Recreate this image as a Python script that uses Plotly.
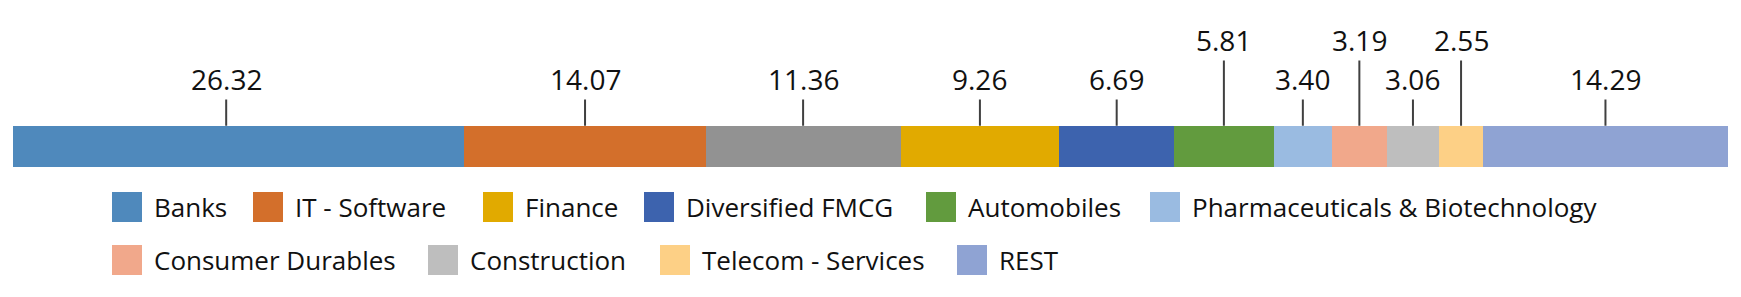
import plotly.graph_objects as go

# ---- data ----
sectors = ["Banks", "IT - Software", "Petroleum Products", "Finance", "Diversified FMCG",
           "Automobiles", "Pharmaceuticals & Biotechnology", "Consumer Durables",
           "Construction", "Telecom - Services", "REST"]
weights = [26.32, 14.07, 11.36, 9.26, 6.69, 5.81, 3.40, 3.19, 3.06, 2.55, 14.29]
colors = ["#4F89BC", "#D36F2B", "#929292", "#E1AA00", "#3D63AE", "#629B3E",
          "#9ABBE1", "#F1A88B", "#BEBEBE", "#FDD086", "#8FA3D3"]
in_legend = [True, True, False, True, True, True, True, True, True, True, True]
label_raised = [False, False, False, False, False, True, False, True, False, True, False]

# ---- layout constants (pixels) ----
W, H = 1741, 297
L_PX, R_PX = 13, 1728
BAR_TOP, BAR_BOT = 125.7, 166.7
px_per_unit = (R_PX - L_PX) / 100.0
x_range = [-L_PX / px_per_unit, 100 + (W - R_PX) / px_per_unit]
label_xshift = {"Banks": -12.5}  # leader-line offset (pixels)

# legend positions (swatch left px, swatch top px) in legend order
legend_pos = [(112, 192), (253, 192), (483, 192), (644, 192), (926, 192), (1150, 192),
              (112, 245), (428, 245), (660, 245), (957, 245)]

fig = go.Figure()
bar_y = (BAR_TOP + BAR_BOT) / 2
for name, w, c in zip(sectors, weights, colors):
    fig.add_trace(go.Bar(
        orientation="h", x=[w], y=[bar_y], width=BAR_BOT - BAR_TOP,
        marker=dict(color=c, line=dict(width=0)), name=name,
        showlegend=False, hoverinfo="name+x"))

annotations = []
shapes = []
cum = 0.0
for name, w, raised in zip(sectors, weights, label_raised):
    mid = cum + w / 2
    cum += w
    annotations.append(dict(
        x=mid, y=BAR_TOP, xref="x", yref="y", xshift=label_xshift.get(name, 0),
        text=f"{w:.2f}", showarrow=True, arrowhead=0, arrowwidth=2,
        arrowcolor="#404040", ax=0, ay=-(BAR_TOP - (40 if raised else 79)),
        font=dict(family="Open Sans", size=28, color="#111111")))

leg_names = [s for s, f in zip(sectors, in_legend) if f]
leg_colors = [c for c, f in zip(colors, in_legend) if f]
for (sx, sy), nm, c in zip(legend_pos, leg_names, leg_colors):
    shapes.append(dict(type="rect", xref="paper", yref="y",
                       x0=sx / W, x1=(sx + 30) / W, y0=sy, y1=sy + 30,
                       fillcolor=c, line=dict(width=0)))
    annotations.append(dict(
        x=(sx + 40) / W, y=sy + 15, xref="paper", yref="y",
        xanchor="left", yanchor="middle", showarrow=False, text=nm,
        font=dict(family="Open Sans", size=26, color="#111111")))

fig.update_layout(
    width=W, height=H, barmode="stack",
    margin=dict(l=0, r=0, t=0, b=0),
    paper_bgcolor="white", plot_bgcolor="white",
    xaxis=dict(range=x_range, visible=False, fixedrange=True),
    yaxis=dict(range=[H, 0], visible=False, fixedrange=True),
    annotations=annotations, shapes=shapes, showlegend=False,
)

fig.write_html("out.html")
